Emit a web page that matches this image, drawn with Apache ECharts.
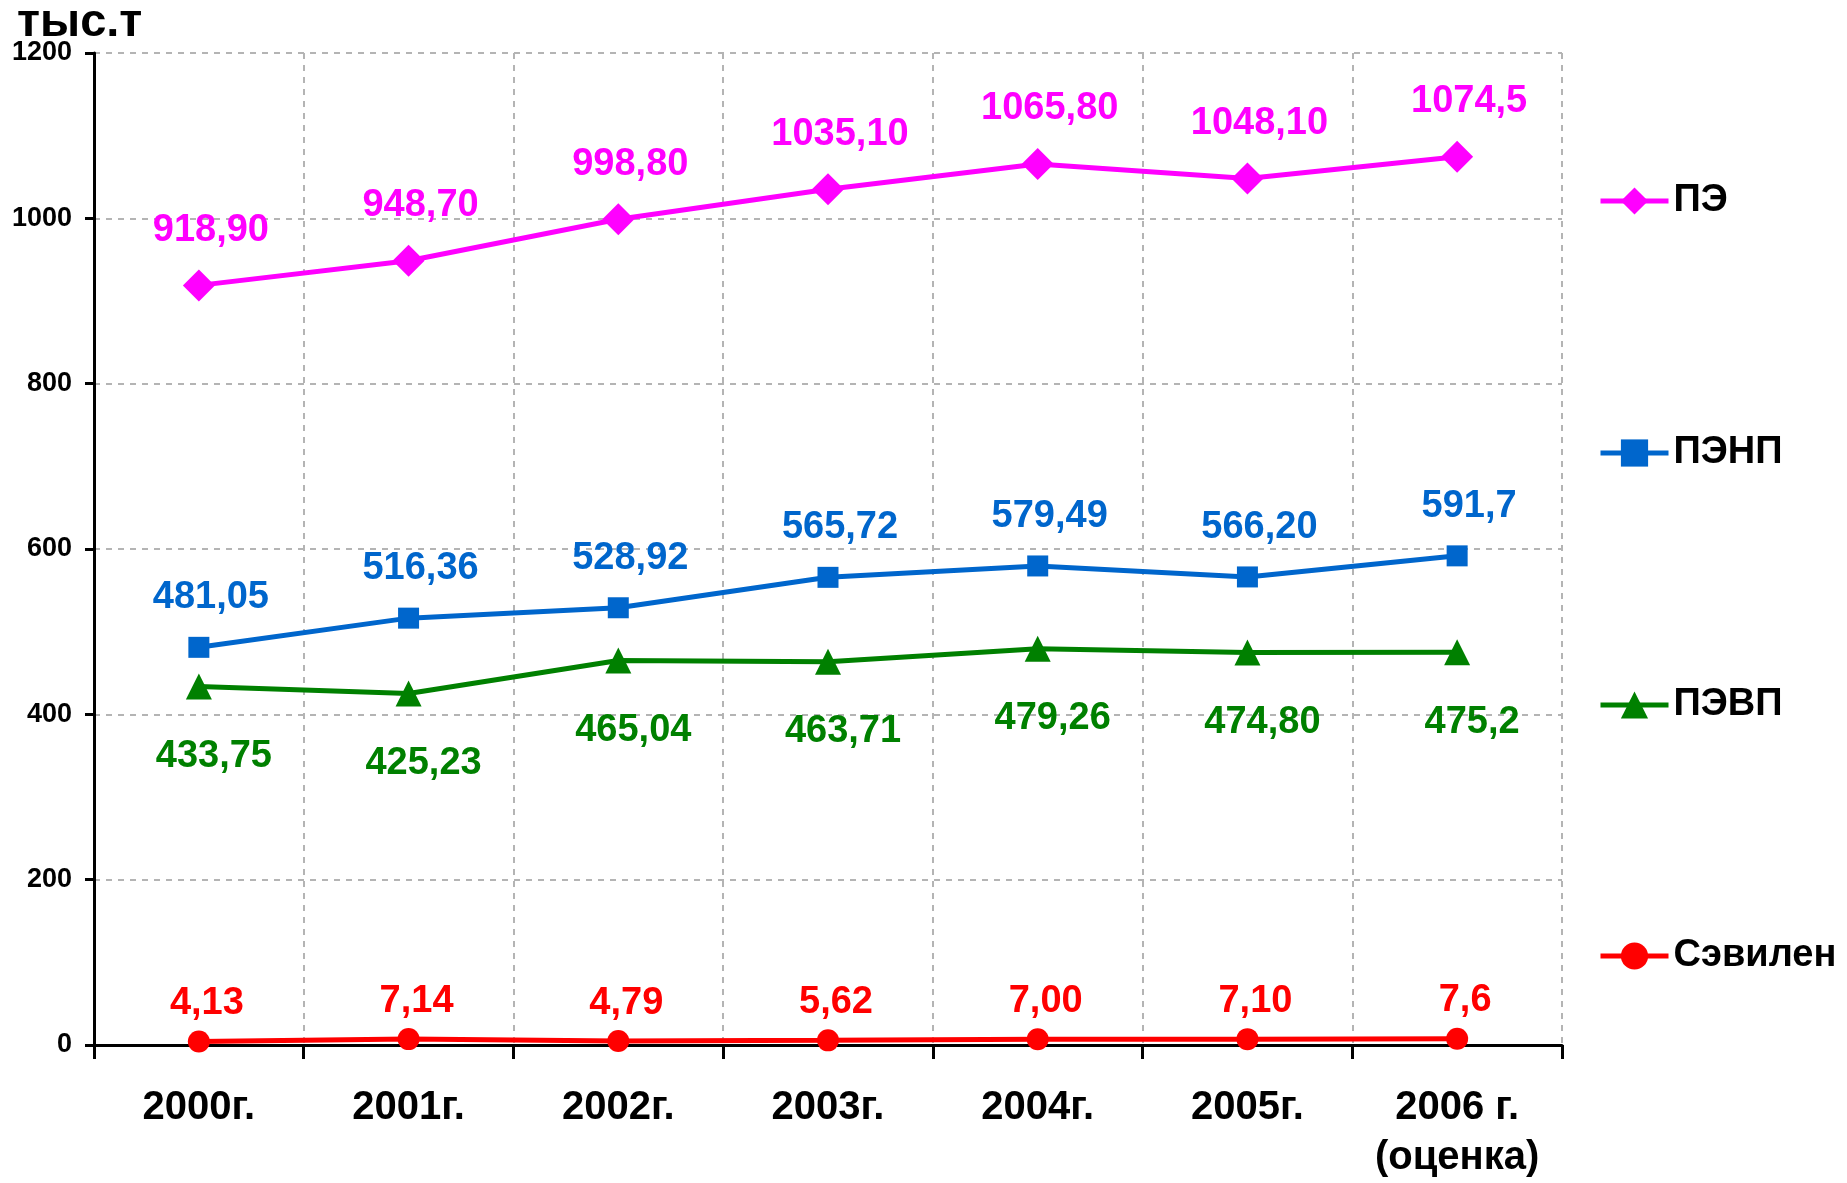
<!DOCTYPE html>
<html>
<head>
    <meta http-equiv="Content-Type" content="text/html; charset=utf-8" />
    <style type="text/css">
        body, html {width: 100%;height: 100%;margin:0;background:#fff;}
        #chart{width:1847px;height:1183px;}
    </style>
    <script src="https://cdn.jsdelivr.net/npm/echarts@6/dist/echarts.min.js"></script>
    <title>тыс.т</title>
</head>
<body>
<div id="chart"></div>
<script type="text/javascript">
    var years = ['2000г.', '2001г.', '2002г.', '2003г.', '2004г.', '2005г.', '2006 г.\n(оценка)'];

    var peValues = [918.90, 948.70, 998.80, 1035.10, 1065.80, 1048.10, 1074.5];
    var penpValues = [481.05, 516.36, 528.92, 565.72, 579.49, 566.20, 591.7];
    var pevpValues = [433.75, 425.23, 465.04, 463.71, 479.26, 474.80, 475.2];
    var sevilenValues = [4.13, 7.14, 4.79, 5.62, 7.00, 7.10, 7.6];

    // подписи как на исходной картинке (с запятой)
    var peLabels = ['918,90', '948,70', '998,80', '1035,10', '1065,80', '1048,10', '1074,5'];
    var penpLabels = ['481,05', '516,36', '528,92', '565,72', '579,49', '566,20', '591,7'];
    var pevpLabels = ['433,75', '425,23', '465,04', '463,71', '479,26', '474,80', '475,2'];
    var sevilenLabels = ['4,13', '7,14', '4,79', '5,62', '7,00', '7,10', '7,6'];

    var seriesNames = ['ПЭ', 'ПЭНП', 'ПЭВП', 'Сэвилен'];

    var FONT = '"Liberation Sans", Arial, sans-serif';

    function makeSeries(name, values, labels, color, symbol, size, pos, offset) {
        return {
            name: name,
            type: 'line',
            data: values,
            symbol: symbol,
            symbolSize: size,
            lineStyle: {color: color, width: 5},
            itemStyle: {color: color},
            label: {
                show: true,
                position: pos,
                distance: 0,
                offset: offset,
                color: color,
                fontFamily: FONT,
                fontWeight: 'bold',
                fontSize: 38,
                formatter: function (p) { return labels[p.dataIndex]; }
            },
            animation: false
        };
    }

    function makeLegend(name, top) {
        return {
            data: [name],
            orient: 'vertical',
            left: 1593,
            top: top,
            itemWidth: 68,
            itemHeight: 34,
            itemGap: 0,
            lineStyle: {width: 5},
            textStyle: {color: '#000', fontFamily: FONT, fontWeight: 'bold', fontSize: 38}
        };
    }

    var chart = echarts.init(document.getElementById('chart'));
    var option = {
        backgroundColor: '#fff',
        title: {
            text: 'тыс.т',
            left: 12,
            top: -5,
            textStyle: {color: '#000', fontFamily: FONT, fontWeight: 'bold', fontSize: 47}
        },
        grid: {left: 94, right: 285, top: 53, bottom: 135, containLabel: false},
        legend: [
            makeLegend(seriesNames[0], 177),
            makeLegend(seriesNames[1], 429),
            makeLegend(seriesNames[2], 681),
            makeLegend(seriesNames[3], 932)
        ],
        xAxis: {
            type: 'category',
            data: years,
            boundaryGap: true,
            axisLine: {lineStyle: {color: '#000', width: 3}},
            axisTick: {show: true, length: 14, lineStyle: {color: '#000', width: 3}},
            axisLabel: {
                interval: 0,
                margin: 38,
                color: '#000',
                fontFamily: FONT,
                fontWeight: 'bold',
                fontSize: 40,
                lineHeight: 50
            },
            splitLine: {show: true, lineStyle: {color: '#b4b4b4', width: 2, type: [6, 6]}}
        },
        yAxis: {
            type: 'value',
            min: 0,
            max: 1200,
            interval: 200,
            axisLine: {show: true, lineStyle: {color: '#000', width: 3}},
            axisTick: {show: true, length: 9, lineStyle: {color: '#000', width: 3}},
            axisLabel: {
                margin: 22,
                color: '#000',
                fontFamily: FONT,
                fontWeight: 'bold',
                fontSize: 27,
                formatter: function (v) { return String(v); }
            },
            splitLine: {show: true, lineStyle: {color: '#b4b4b4', width: 2, type: [6, 6]}}
        },
        series: [
            makeSeries(seriesNames[0], peValues, peLabels, '#ff00ff', 'diamond', 32, 'top', [12, -20]),
            makeSeries(seriesNames[1], penpValues, penpLabels, '#0066cc', 'rect', 21, 'top', [12, -20]),
            makeSeries(seriesNames[2], pevpValues, pevpLabels, '#008000', 'triangle', 26, 'bottom', [15, 38]),
            makeSeries(seriesNames[3], sevilenValues, sevilenLabels, '#ff0000', 'circle', 22, 'top', [8, -8])
        ]
    };
    chart.setOption(option);
</script>
</body>
</html>
